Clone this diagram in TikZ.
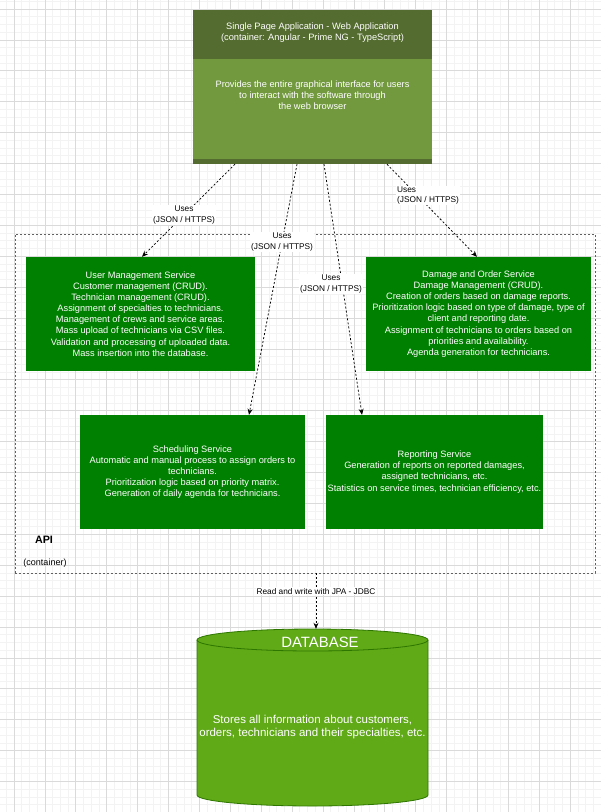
\documentclass[tikz,border=0pt]{standalone}
\usepackage{fontspec}
\setmainfont{Liberation Sans}
\usetikzlibrary{arrows.meta,calc}
\definecolor{spahead}{RGB}{84,108,47}
\definecolor{spabody}{RGB}{114,153,62}
\definecolor{svc}{RGB}{0,128,0}
\definecolor{dbfill}{RGB}{96,169,23}
\definecolor{dbline}{RGB}{45,118,0}
\definecolor{gridmajor}{RGB}{218,218,218}
\definecolor{gridminor}{RGB}{243,243,243}
\begin{document}
\begin{tikzpicture}[x=1pt,y=-1pt,
  boxtext/.style={text=white, align=center, inner sep=0pt, font=\fontsize{9.25}{11.1}\selectfont},
  svcbox/.style={rectangle, fill=svc, draw=none, inner sep=0pt, minimum height=114pt, text=white, align=center, font=\fontsize{9.25}{11.1}\selectfont},
  lbl/.style={fill=white, inner sep=1pt, text=black, align=center, font=\fontsize{8.3}{10.3}\selectfont},
  conn/.style={draw=black, line width=0.75pt, dash pattern=on 2pt off 2pt, -{Stealth[length=6pt,width=5pt]}},
  minorline/.style={draw=gridminor, line width=0.7pt},
  majorline/.style={draw=gridmajor, line width=0.7pt}
]
\useasboundingbox (0,0) rectangle (601,812);
\fill[white] (0,0) rectangle (601,812);
% grid
\begin{scope}
\clip (0,0) rectangle (601,812);
\foreach \i in {-1,...,77} \draw[minorline] ({14+7.725*\i},0) -- ({14+7.725*\i},812);
\foreach \i in {-2,...,104} \draw[minorline] (0,{9+7.725*\i}) -- (601,{9+7.725*\i});
\foreach \i in {0,...,19} \draw[majorline] ({14+30.9*\i},0) -- ({14+30.9*\i},812);
\foreach \i in {-1,...,26} \draw[majorline] (0,{9+30.9*\i}) -- (601,{9+30.9*\i});
\end{scope}

% SPA
\node[rectangle, fill=spahead, minimum width=239pt, minimum height=154pt, inner sep=0pt] (spa) at (312.5,87) {};
\node[rectangle, fill=spabody, minimum width=239pt, minimum height=100pt, inner sep=0pt] (spabody) at (312.5,109) {};
\node[boxtext] (spatitle) at (312.5,33) {Single Page Application - Web Application\\(container: Angular - Prime NG - TypeScript)};
\node[boxtext] (spadesc) at (312.5,95) {Provides the entire graphical interface for users\\to interact with the software through\\the web browser};

% API container
\node[draw=gray!75!black, dash pattern=on 2pt off 2pt, line width=0.8pt, minimum width=580pt, minimum height=339pt, inner sep=0pt] (api) at (305,403.5) {};
\node[font=\bfseries\fontsize{10.7}{12}\selectfont, inner sep=0pt] (apiname) at (44,540) {API};
\node[font=\fontsize{9}{10}\selectfont, inner sep=0pt] (apitype) at (45,563) {(container)};

% services
\node[svcbox, minimum width=229pt] (usr) at (140.5,314) {User Management Service\\Customer management (CRUD).\\Technician management (CRUD).\\Assignment of specialties to technicians.\\Management of crews and service areas.\\Mass upload of technicians via CSV files.\\Validation and processing of uploaded data.\\Mass insertion into the database.};
\node[svcbox, minimum width=225pt] (dmg) at (478.5,314) {Damage and Order Service\\Damage Management (CRUD).\\Creation of orders based on damage reports.\\Prioritization logic based on type of damage, type of\\client and reporting date.\\Assignment of technicians to orders based on\\priorities and availability.\\Agenda generation for technicians.};
\node[svcbox, minimum width=225pt] (sched) at (192.5,472) {Scheduling Service\\Automatic and manual process to assign orders to\\technicians.\\Prioritization logic based on priority matrix.\\Generation of daily agenda for technicians.};
\node[svcbox, minimum width=217pt] (rep) at (434.5,472) {Reporting Service\\Generation of reports on reported damages,\\assigned technicians, etc.\\Statistics on service times, technician efficiency, etc.};

% database
\path[fill=dbfill, draw=dbline, line width=0.8pt] (197,640) -- (197,795) arc[start angle=180, end angle=0, x radius=115.5, y radius=11] -- (428,640) arc[start angle=0, end angle=-180, x radius=115.5, y radius=11] -- cycle;
\draw[dbline, line width=0.8pt] (197,640) arc[start angle=180, end angle=0, x radius=115.5, y radius=11];
\node[minimum width=231pt, minimum height=177pt, inner sep=0pt] (db) at (312.5,717.5) {};
\node[text=white, inner sep=0pt, font=\fontsize{14.9}{17}\selectfont] (dbtitle) at (320,642) {DATABASE};
\node[text=white, inner sep=0pt, align=center, font=\fontsize{11.5}{13.8}\selectfont] (dbdesc) at (312.5,727) {Stores all information about customers,\\orders, technicians and their specialties, etc.};

% connectors
\draw[conn] ([xshift=-77.5pt]spa.south) -- node[lbl, pos=0.548] {Uses\\(JSON / HTTPS)} ([xshift=1.5pt]usr.north);
\draw[conn] ([xshift=-15.5pt]spa.south) -- node[lbl, pos=0.31] {Uses\\(JSON / HTTPS)} ([xshift=56.5pt]sched.north);
\draw[conn] ([xshift=11.5pt]spa.south) -- ([xshift=-72.5pt]rep.north);
\node[lbl] (l3) at (331,284) {Uses\\(JSON / HTTPS)};
\draw[conn] ([xshift=74.5pt]spa.south) -- ([xshift=-1.5pt]dmg.north);
\node[lbl, align=left, anchor=west] (l4) at (396,195.5) {Uses\\(JSON / HTTPS)};
\draw[conn] ([xshift=11pt]api.south) -- node[lbl, pos=0.32] {Read and write with JPA - JDBC} ([xshift=3.5pt]db.north);
\end{tikzpicture}
\end{document}
